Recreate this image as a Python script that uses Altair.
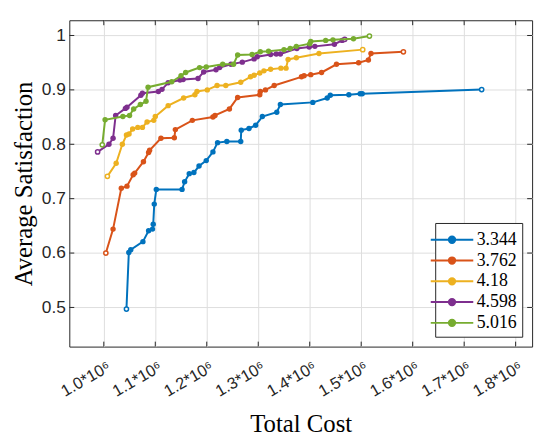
import altair as alt
import pandas as pd

series_names = ["3.344", "3.762", "4.18", "4.598", "5.016"]
colors = ["#0072BD", "#D95319", "#EDB120", "#7E2F8E", "#77AC30"]

# cost values in units of 1e6
blue_x = [1.044, 1.0486, 1.0524, 1.076, 1.087, 1.0946, 1.096, 1.098, 1.102, 1.152,
          1.157, 1.166, 1.175, 1.185, 1.199, 1.212, 1.221, 1.239, 1.266, 1.267,
          1.282, 1.295, 1.308, 1.336, 1.343, 1.406, 1.434, 1.440, 1.476, 1.498,
          1.502, 1.734]
blue_y = [0.497, 0.601, 0.606, 0.621, 0.641, 0.644, 0.653, 0.690, 0.717, 0.717,
          0.731, 0.746, 0.748, 0.760, 0.770, 0.786, 0.803, 0.805, 0.805, 0.826,
          0.829, 0.835, 0.851, 0.859, 0.873, 0.877, 0.885, 0.890, 0.891, 0.893,
          0.893, 0.9005]

orange_x = [1.004, 1.018, 1.034, 1.045, 1.057, 1.060, 1.077, 1.087, 1.089, 1.111,
            1.137, 1.139, 1.172, 1.212, 1.216, 1.244, 1.260, 1.303, 1.304, 1.314,
            1.331, 1.384, 1.389, 1.402, 1.423, 1.452, 1.495, 1.514, 1.519, 1.582]
orange_y = [0.600, 0.644, 0.719, 0.723, 0.744, 0.747, 0.768, 0.785, 0.789, 0.811,
            0.812, 0.827, 0.844, 0.850, 0.853, 0.865, 0.886, 0.891, 0.897, 0.900,
            0.908, 0.924, 0.926, 0.928, 0.932, 0.947, 0.950, 0.955, 0.967, 0.970]

yellow_x = [1.007, 1.024, 1.036, 1.044, 1.049, 1.056, 1.066, 1.075, 1.084, 1.097,
            1.100, 1.125, 1.155, 1.177, 1.181, 1.201, 1.220, 1.237, 1.266, 1.285,
            1.292, 1.303, 1.311, 1.324, 1.344, 1.354, 1.358, 1.374, 1.418, 1.503]
yellow_y = [0.741, 0.765, 0.800, 0.817, 0.819, 0.828, 0.831, 0.831, 0.841, 0.844,
            0.851, 0.871, 0.885, 0.891, 0.897, 0.900, 0.908, 0.908, 0.914, 0.924,
            0.927, 0.931, 0.935, 0.938, 0.940, 0.940, 0.956, 0.959, 0.967, 0.974]

purple_x = [0.988, 1.010, 1.018, 1.023, 1.042, 1.045, 1.072, 1.075, 1.106, 1.113,
            1.125, 1.148, 1.154, 1.183, 1.194, 1.218, 1.225, 1.247, 1.269, 1.292,
            1.298, 1.324, 1.335, 1.343, 1.375, 1.399, 1.410, 1.448, 1.463, 1.468]
purple_y = [0.786, 0.800, 0.811, 0.853, 0.866, 0.868, 0.890, 0.894, 0.897, 0.901,
            0.913, 0.918, 0.919, 0.921, 0.933, 0.937, 0.941, 0.947, 0.951, 0.957,
            0.961, 0.965, 0.966, 0.966, 0.976, 0.979, 0.980, 0.984, 0.991, 0.993]

green_x = [0.997, 1.0025, 1.037, 1.050, 1.058, 1.071, 1.082, 1.086, 1.132, 1.150,
           1.159, 1.186, 1.199, 1.231, 1.252, 1.260, 1.288, 1.304, 1.320, 1.350,
           1.362, 1.374, 1.400, 1.402, 1.431, 1.445, 1.485, 1.516]
green_y = [0.799, 0.845, 0.851, 0.853, 0.865, 0.873, 0.879, 0.905, 0.915, 0.926,
           0.932, 0.941, 0.942, 0.947, 0.947, 0.964, 0.965, 0.970, 0.971, 0.974,
           0.976, 0.980, 0.985, 0.989, 0.991, 0.992, 0.994, 0.999]

x_ticks = [1.0e6, 1.1e6, 1.2e6, 1.3e6, 1.4e6, 1.5e6, 1.6e6, 1.7e6, 1.8e6]
y_ticks = [0.5, 0.6, 0.7, 0.8, 0.9, 1.0]

all_series = [(series_names[0], blue_x, blue_y), (series_names[1], orange_x, orange_y),
              (series_names[2], yellow_x, yellow_y), (series_names[3], purple_x, purple_y),
              (series_names[4], green_x, green_y)]

rows = []
for name, xs, ys in all_series:
    n = len(xs)
    for i, (xv, yv) in enumerate(zip(xs, ys)):
        rows.append({"series": name, "cost": xv * 1e6, "sat": yv, "idx": i,
                     "end": 1 if (i == 0 or i == n - 1) else 0})
df = pd.DataFrame(rows)

W, H = 468, 330
x_scale = alt.Scale(domain=[933000, 1832000], nice=False, zero=False)
y_scale = alt.Scale(domain=[0.428, 1.028], nice=False, zero=False)

x_axis = alt.Axis(values=x_ticks, title="Total Cost", grid=True, ticks=False, domain=False,
                  labelExpr="format(datum.value/1e6, '.1f') + '*10⁶'",
                  labelAngle=-30, labelAlign="right", labelBaseline="middle",
                  labelFontSize=16.5, labelOverlap=False, labelPadding=19, labelOffset=5,
                  titlePadding=12)
y_axis = alt.Axis(values=y_ticks, title="Average Satisfaction", grid=True, ticks=False,
                  domain=False, labelExpr="datum.value == 1 ? '1' : format(datum.value, '.1f')",
                  labelFontSize=17.5, labelOverlap=False, labelPadding=4, titlePadding=5)
x_enc = alt.X("cost:Q", scale=x_scale, axis=x_axis)
y_enc = alt.Y("sat:Q", scale=y_scale, axis=y_axis)

legend_path = "M-2,0L2,0M-0.3,0A0.3,0.3,0,1,1,0.3,0A0.3,0.3,0,1,1,-0.3,0Z"
color_enc = alt.Color("series:N", scale=alt.Scale(domain=series_names, range=colors),
                      legend=alt.Legend(title=None, orient="bottom-right", offset=10,
                                        symbolType=legend_path, symbolSize=462,
                                        symbolStrokeWidth=2, symbolOpacity=1,
                                        labelFont="Liberation Serif", labelFontSize=18,
                                        labelColor="black", labelOffset=13, rowPadding=0,
                                        strokeColor="#262626", fillColor="white", padding=5,
                                        cornerRadius=0))

base = alt.Chart(df)
layers = []
for name in series_names:
    sub = base.transform_filter(alt.datum.series == name)
    pts = sub.transform_filter(alt.datum.end == 0).mark_circle(size=30, opacity=1).encode(
        x=x_enc, y=y_enc, color=color_enc)
    line = sub.mark_line(strokeWidth=2).encode(x=x_enc, y=y_enc, color=color_enc, order="idx:Q")
    ends = sub.transform_filter(alt.datum.end == 1).mark_point(
        shape="circle", filled=False, fill="white", size=18, strokeWidth=1.5, opacity=1).encode(
        x=x_enc, y=y_enc, color=color_enc)
    layers += [line, pts, ends]

xt = pd.DataFrame({"cost": x_ticks})
yt = pd.DataFrame({"sat": y_ticks})
tick_color = "#262626"
xb = alt.Chart(xt).mark_rule(color=tick_color, strokeWidth=1).encode(
    x=x_enc, y=alt.value(H), y2=alt.value(H - 5))
xtop = alt.Chart(xt).mark_rule(color=tick_color, strokeWidth=1).encode(
    x=x_enc, y=alt.value(0), y2=alt.value(5))
yl = alt.Chart(yt).mark_rule(color=tick_color, strokeWidth=1).encode(
    y=y_enc, x=alt.value(0), x2=alt.value(5))
yr = alt.Chart(yt).mark_rule(color=tick_color, strokeWidth=1).encode(
    y=y_enc, x=alt.value(W), x2=alt.value(W - 5))

chart = alt.layer(*layers, xb, xtop, yl, yr).properties(
    width=W, height=H,
    autosize=alt.AutoSizeParams(type="none"),
    padding={"left": 62, "top": 10, "right": 10, "bottom": 88},
).configure_view(stroke="#262626", strokeWidth=1).configure_axis(
    labelFont="Liberation Sans", labelColor="#262626",
    titleFont="Liberation Serif", titleFontSize=25, titleFontWeight="normal", titleColor="#000000",
    gridColor="#dedede", gridWidth=1, gridOpacity=1,
)

chart.save("out.html", embed_options={"renderer": "svg", "actions": False})
